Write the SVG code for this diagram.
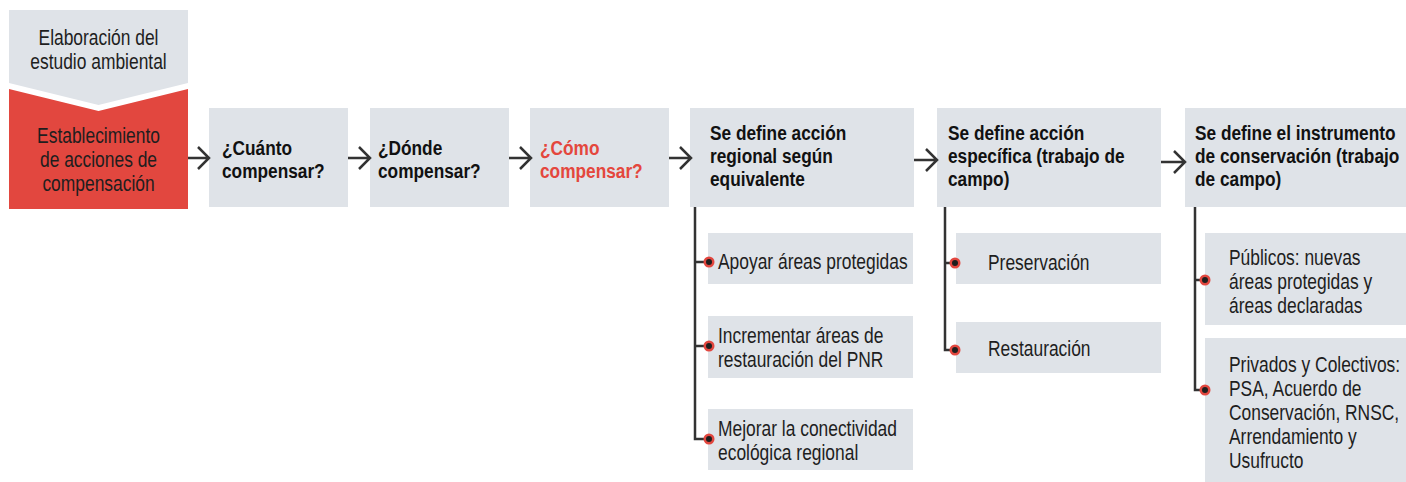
<svg xmlns="http://www.w3.org/2000/svg" width="1406" height="482" viewBox="0 0 1406 482">
<style>
.box{fill:#dfe3e8}
.red{fill:#e2473f}
.reg{font-family:"Liberation Sans",Arial,sans-serif;font-size:21.5px;fill:#1e1e1e}
.bold{font-family:"Liberation Sans",Arial,sans-serif;font-size:20.5px;font-weight:bold;fill:#111}
.hl{fill:#e4473d}
.ln{fill:none;stroke:#333;stroke-width:2.5}
.arr{fill:none;stroke:#333;stroke-width:2.5;stroke-linejoin:miter}
.dot{fill:#e2473f}
.dotc{fill:#1e1e1e}
</style>
<rect width="1406" height="482" fill="#fff"/>
<g id="n-elaboracion">
<polygon class="box" points="9,10 188,10 188,83 98.5,105 9,83"/>
<text class="reg" text-anchor="middle" transform="translate(98.5,45) scale(0.81,1)"><tspan x="0" y="0">Elaboración del</tspan><tspan x="0" dy="24">estudio ambiental</tspan></text>
</g>
<g id="n-establecimiento">
<polygon class="red" points="9,89 98.5,111 188,89 188,209 9,209"/>
<text class="reg" text-anchor="middle" transform="translate(98.5,143) scale(0.81,1)"><tspan x="0" y="0">Establecimiento</tspan><tspan x="0" dy="24">de acciones de</tspan><tspan x="0" dy="24">compensación</tspan></text>
</g>
<g id="n-cuanto">
<rect class="box" x="209" y="108" width="139" height="99"/>
<text class="bold" transform="translate(222,155) scale(0.843,1)"><tspan x="0" y="0">¿Cuánto</tspan><tspan x="0" dy="23">compensar?</tspan></text>
</g>
<g id="n-donde">
<rect class="box" x="370" y="108" width="139" height="99"/>
<text class="bold" transform="translate(378,155) scale(0.843,1)"><tspan x="0" y="0">¿Dónde</tspan><tspan x="0" dy="23">compensar?</tspan></text>
</g>
<g id="n-como">
<rect class="box" x="530" y="108" width="139" height="99"/>
<text class="bold hl" transform="translate(540,155) scale(0.843,1)"><tspan x="0" y="0">¿Cómo</tspan><tspan x="0" dy="23">compensar?</tspan></text>
</g>
<g id="n-regional">
<rect class="box" x="690" y="108" width="224" height="99"/>
<text class="bold" transform="translate(710,140) scale(0.843,1)"><tspan x="0" y="0">Se define acción</tspan><tspan x="0" dy="23">regional según</tspan><tspan x="0" dy="23">equivalente</tspan></text>
</g>
<g id="n-especifica">
<rect class="box" x="937" y="108" width="224" height="99"/>
<text class="bold" transform="translate(948,140) scale(0.843,1)"><tspan x="0" y="0">Se define acción</tspan><tspan x="0" dy="23">específica (trabajo de</tspan><tspan x="0" dy="23">campo)</tspan></text>
</g>
<g id="n-instrumento">
<rect class="box" x="1185" y="108" width="221" height="99"/>
<text class="bold" transform="translate(1195,140) scale(0.843,1)"><tspan x="0" y="0">Se define el instrumento</tspan><tspan x="0" dy="23">de conservación (trabajo</tspan><tspan x="0" dy="23">de campo)</tspan></text>
</g>
<g id="n-apoyar">
<rect class="box" x="708" y="233" width="205" height="51"/>
<text class="reg" transform="translate(718,269) scale(0.81,1)">Apoyar áreas protegidas</text>
</g>
<g id="n-incrementar">
<rect class="box" x="708" y="316" width="205" height="62"/>
<text class="reg" transform="translate(718,343) scale(0.81,1)"><tspan x="0" y="0">Incrementar áreas de</tspan><tspan x="0" dy="24">restauración del PNR</tspan></text>
</g>
<g id="n-mejorar">
<rect class="box" x="708" y="409" width="205" height="61"/>
<text class="reg" transform="translate(718,436) scale(0.81,1)"><tspan x="0" y="0">Mejorar la conectividad</tspan><tspan x="0" dy="24">ecológica regional</tspan></text>
</g>
<g id="n-preservacion">
<rect class="box" x="956" y="233" width="205" height="51"/>
<text class="reg" transform="translate(988,270) scale(0.81,1)">Preservación</text>
</g>
<g id="n-restauracion">
<rect class="box" x="956" y="322" width="205" height="51"/>
<text class="reg" transform="translate(988,356) scale(0.81,1)">Restauración</text>
</g>
<g id="n-publicos">
<rect class="box" x="1205" y="233" width="201" height="92"/>
<text class="reg" transform="translate(1229,265) scale(0.81,1)"><tspan x="0" y="0">Públicos: nuevas</tspan><tspan x="0" dy="24">áreas protegidas y</tspan><tspan x="0" dy="24">áreas declaradas</tspan></text>
</g>
<g id="n-privados">
<rect class="box" x="1205" y="338" width="201" height="144"/>
<text class="reg" transform="translate(1229,372) scale(0.81,1)"><tspan x="0" y="0">Privados y Colectivos:</tspan><tspan x="0" dy="24">PSA, Acuerdo de</tspan><tspan x="0" dy="24">Conservación, RNSC,</tspan><tspan x="0" dy="24">Arrendamiento y</tspan><tspan x="0" dy="24">Usufructo</tspan></text>
</g>
<g id="connectors">
<path class="arr" d="M188,158 H208 M198,147 L209,158 L198,169"/>
<path class="arr" d="M348,158 H369 M359,147 L370,158 L359,169"/>
<path class="arr" d="M509,158 H530 M520,147 L531,158 L520,169"/>
<path class="arr" d="M669,158 H690 M680,147 L691,158 L680,169"/>
<path class="arr" d="M914,160 H936 M926,149 L937,160 L926,171"/>
<path class="arr" d="M1161,162 H1184 M1174,151 L1185,162 L1174,173"/>
<path class="ln" d="M695,207 V439 H709 M695,262 H709 M695,346 H709"/>
<path class="ln" d="M945,207 V350 H955 M945,263 H955"/>
<path class="ln" d="M1195,207 V390 H1205 M1195,280 H1205"/>
<g>
<circle class="dot" cx="709" cy="262" r="5.5"/><circle class="dotc" cx="709" cy="262" r="3"/>
<circle class="dot" cx="709" cy="346" r="5.5"/><circle class="dotc" cx="709" cy="346" r="3"/>
<circle class="dot" cx="709" cy="439" r="5.5"/><circle class="dotc" cx="709" cy="439" r="3"/>
<circle class="dot" cx="955" cy="263" r="5.5"/><circle class="dotc" cx="955" cy="263" r="3"/>
<circle class="dot" cx="955" cy="350" r="5.5"/><circle class="dotc" cx="955" cy="350" r="3"/>
<circle class="dot" cx="1205" cy="280" r="5.5"/><circle class="dotc" cx="1205" cy="280" r="3"/>
<circle class="dot" cx="1205" cy="390" r="5.5"/><circle class="dotc" cx="1205" cy="390" r="3"/>
</g>
</g>
</svg>
